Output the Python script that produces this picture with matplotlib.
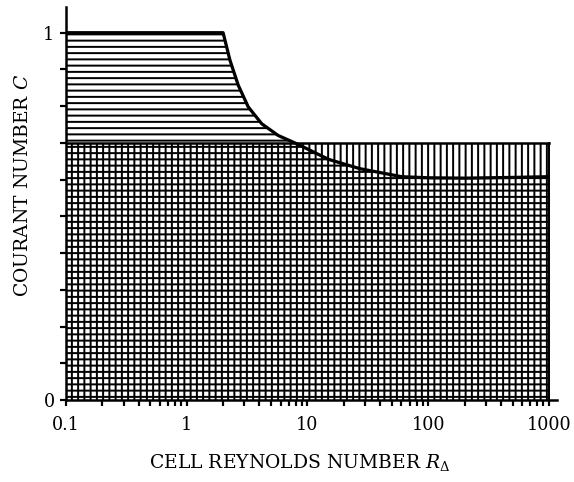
import matplotlib
matplotlib.use("Agg")
import matplotlib.pyplot as plt
import numpy as np

# Data
reynolds = [0.1, 2.0, 2.28, 2.67, 3.23, 4.18, 5.73, 8.1, 15, 27, 60, 100, 200, 500, 1000]
courant_limit = [1.0, 1.0, 0.925, 0.857, 0.798, 0.752, 0.72, 0.698, 0.655, 0.63, 0.608,
                 0.605, 0.604, 0.606, 0.608]
courant_flat = 0.7
x_ticks = [0.1, 1, 10, 100, 1000]
x_ticklabels = ["0.1", "1", "10", "100", "1000"]
y_ticks = [0.0, 0.1, 0.2, 0.3, 0.4, 0.5, 0.6, 0.7, 0.8, 0.9, 1.0]
y_ticklabels = ["0", "", "", "", "", "", "", "", "", "", "1"]

DPI = 75
plt.rcParams["font.family"] = ["DejaVu Serif"]
plt.rcParams["mathtext.fontset"] = "dejavuserif"
plt.rcParams["hatch.linewidth"] = 1.9
plt.rcParams["hatch.color"] = "black"

fig = plt.figure(figsize=(574 / DPI, 482 / DPI), dpi=DPI)
ax = fig.add_axes([66 / 574, 1 - 400 / 482, (557 - 66) / 574, (400 - 7) / 482])

R = np.array(reynolds)
C = np.array(courant_limit)

# horizontal hatch below stability curve
ax.fill_between(R, 0, C, facecolor="none", edgecolor="black", hatch="--", linewidth=0)
# vertical hatch below flat limit
ax.fill_between([R[0], R[-1]], 0, courant_flat, facecolor="none", edgecolor="black",
                hatch="||", linewidth=0)

# outlines
ax.plot(R, C, color="black", lw=3.1, solid_capstyle="butt", solid_joinstyle="round")
ax.plot([R[0], R[-1]], [courant_flat, courant_flat], color="black", lw=2.4)
ax.plot([R[-1], R[-1]], [0, courant_flat], color="black", lw=1.9)

ax.set_xscale("log")
ax.set_xlim(0.1, 1165)
ax.set_ylim(0, 1.07)

ax.set_xticks(x_ticks)
ax.set_xticklabels(x_ticklabels)
ax.xaxis.set_minor_locator(matplotlib.ticker.LogLocator(base=10, subs=np.arange(2, 10)))
ax.xaxis.set_minor_formatter(matplotlib.ticker.NullFormatter())
ax.set_yticks(y_ticks)
ax.set_yticklabels(y_ticklabels)

for s in ["top", "right"]:
    ax.spines[s].set_visible(False)
for s in ["left", "bottom"]:
    ax.spines[s].set_linewidth(2.4)

ax.tick_params(axis="both", which="both", direction="out", width=2.1, length=6,
               labelsize=16.8, pad=5)
ax.tick_params(axis="x", which="major", pad=9)

ax.set_xlabel(r"CELL REYNOLDS NUMBER $R_\Delta$", fontsize=18)
ax.set_ylabel(r"COURANT NUMBER $C$", fontsize=18)
ax.xaxis.set_label_coords((300 - 66) / 491, (400 - 452) / 393)
ax.yaxis.set_label_coords((32 - 66) / 491, (400 - 186) / 393)

fig.savefig("out.png", dpi=DPI)
